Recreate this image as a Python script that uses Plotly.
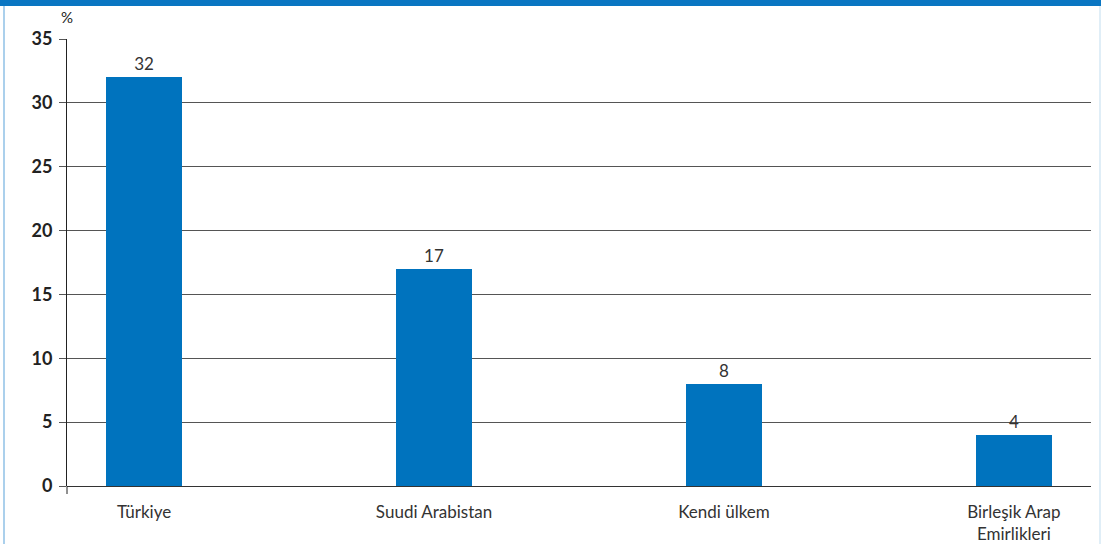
import plotly.graph_objects as go

categories = ["Türkiye", "Suudi Arabistan", "Kendi ülkem", "Birleşik Arap<br>Emirlikleri"]
values = [32, 17, 8, 4]
y_ticks = [0, 5, 10, 15, 20, 25, 30, 35]

positions = list(range(len(categories)))
BLUE = "#0073be"
FONT = "Lato, Open Sans, Noto Sans, sans-serif"

fig = go.Figure()
fig.add_trace(go.Bar(
    x=positions, y=values, width=0.262,
    marker=dict(color=BLUE, line=dict(width=0)),
    text=[str(v) for v in values], textposition="outside",
    textfont=dict(family=FONT, size=17, color="#333333"),
    cliponaxis=False, hoverinfo="skip",
))

fig.update_layout(
    width=1101, height=544,
    margin=dict(l=67, r=10, t=39, b=58, autoexpand=False),
    paper_bgcolor="white", plot_bgcolor="white",
    showlegend=False,
    font=dict(family=FONT, color="#333333"),
    xaxis=dict(
        range=[-0.266, 3.266], tickmode="array", tickvals=positions,
        ticktext=categories, showgrid=False, zeroline=False,
        showline=False, ticks="", ticklabelstandoff=14,
        tickfont=dict(family=FONT, size=17, color="#333333"),
        fixedrange=True,
    ),
    yaxis=dict(
        range=[0, 35], tickmode="array", tickvals=y_ticks,
        ticktext=[str(t) for t in y_ticks],
        showgrid=True, gridcolor="#555555", gridwidth=1,
        zeroline=True, zerolinecolor="#333333", zerolinewidth=1,
        showline=True, linecolor="#222222", linewidth=1,
        ticks="outside", ticklen=7, tickcolor="#555555",
        ticklabelstandoff=3,
        tickfont=dict(family=FONT, size=18, color="#222222", weight="bold"),
        fixedrange=True,
    ),
    bargap=0,
    annotations=[dict(
        text="%", xref="paper", yref="paper", x=0, y=1.0, yshift=22,
        xanchor="center", yanchor="middle", showarrow=False,
        font=dict(family=FONT, size=15, color="#222222"),
    )],
    shapes=[
        dict(type="rect", xref="paper", yref="paper", x0=-67/1024, x1=1 + 10/1024,
             y0=1 + 33/447, y1=1 + 39/447, fillcolor="#0a76c2", line=dict(width=0), layer="above"),
        dict(type="line", xref="paper", yref="paper", x0=-63/1024, x1=-63/1024,
             y0=-58/447, y1=1 + 33/447, line=dict(color="#8fc0e6", width=1.5)),
        dict(type="line", xref="paper", yref="paper", x0=1 + 9/1024, x1=1 + 9/1024,
             y0=-58/447, y1=1 + 33/447, line=dict(color="#d6e8f5", width=1.5)),
        dict(type="line", xref="paper", yref="paper", x0=0, x1=0,
             y0=-8/447, y1=0, line=dict(color="#222222", width=1)),
    ],
)

fig.write_html(
    "out.html",
    config={"displayModeBar": False, "staticPlot": True},
    post_script="document.body.style.margin='0';document.body.style.overflow='hidden';",
)
